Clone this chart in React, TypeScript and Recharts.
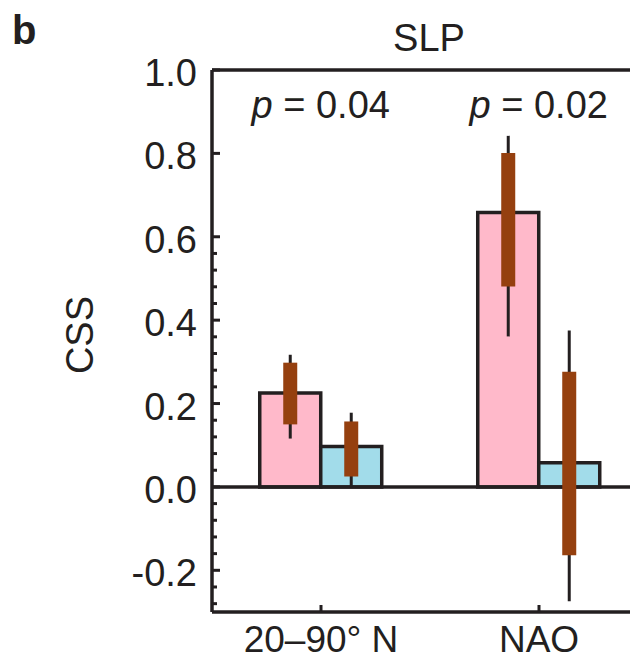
import { BarChart, Bar, XAxis, YAxis, ReferenceLine, ErrorBar, LabelList } from 'recharts'

const categories = ['20–90° N', 'NAO']
const pLabels = ['0.04', '0.02']

// bar heights
const pinkValues = [0.225, 0.658]
const blueValues = [0.097, 0.058]

// brown boxes (inner range) and thin whiskers (outer range)
const pinkBoxLow = [0.15, 0.481]
const pinkBoxHigh = [0.298, 0.801]
const pinkWhiskLow = [0.116, 0.361]
const pinkWhiskHigh = [0.317, 0.842]
const blueBoxLow = [0.025, -0.164]
const blueBoxHigh = [0.157, 0.276]
const blueWhiskLow = [0.0, -0.274]
const blueWhiskHigh = [0.178, 0.375]

const majorTicks = [-0.2, 0, 0.2, 0.4, 0.6, 0.8, 1.0]
const minorTicks = [
  -0.28, -0.24, -0.16, -0.12, -0.08, -0.04, 0.04, 0.08, 0.12, 0.16, 0.24, 0.28, 0.32, 0.36, 0.44,
  0.48, 0.52, 0.56,
]

const INK = '#231f20'
const FONT = '"Liberation Sans", Arial, sans-serif'
const PLOT_TOP = 62
const FRAME_W = 3.5

const data = categories.map((name, i) => ({
  name,
  p: pLabels[i],
  pink: pinkValues[i],
  blue: blueValues[i],
  pinkBox: [pinkValues[i] - pinkBoxLow[i], pinkBoxHigh[i] - pinkValues[i]],
  pinkWhisk: [pinkValues[i] - pinkWhiskLow[i], pinkWhiskHigh[i] - pinkValues[i]],
  blueBox: [blueValues[i] - blueBoxLow[i], blueBoxHigh[i] - blueValues[i]],
  blueWhisk: [blueValues[i] - blueWhiskLow[i], blueWhiskHigh[i] - blueValues[i]],
}))

function YTick({ x, y, payload }: any) {
  const v = payload.value as number
  const major = majorTicks.some((m) => Math.abs(m - v) < 1e-6)
  return (
    <g>
      <line x1={x} x2={x + (major ? 8 : 5)} y1={y} y2={y} stroke={INK} strokeWidth={3} />
      {major && (
        <text x={x - 15} y={y + 16} textAnchor="end" fontSize={38} fill={INK} fontFamily={FONT}>
          {v.toFixed(1)}
        </text>
      )}
    </g>
  )
}

function XTick({ x, y, payload }: any) {
  return (
    <g>
      <line x1={x} x2={x} y1={y} y2={y - 7} stroke={INK} strokeWidth={3} />
      <text x={x} y={y + 40} textAnchor="middle" fontSize={37} fill={INK} fontFamily={FONT}>
        {payload.value}
      </text>
    </g>
  )
}

// p-value sits above the middle of each group, i.e. at the right edge of the pink bar
function PLabel({ x, width, index }: any) {
  return (
    <text
      x={x + width}
      y={PLOT_TOP + 48}
      textAnchor="middle"
      fontSize={38}
      fill={INK}
      fontFamily={FONT}
    >
      <tspan fontStyle="italic">p</tspan> = {pLabels[index]}
    </text>
  )
}

export default function App() {
  return (
    <div style={{ width: 630, height: 651, overflow: 'hidden' }}>
      <BarChart
        width={660}
        height={651}
        data={data}
        margin={{ top: PLOT_TOP, right: 20, bottom: 7, left: 0 }}
        barCategoryGap="21.9%"
        barGap={0}
      >
        <XAxis
          dataKey="name"
          height={40}
          tickSize={0}
          tickMargin={0}
          tickLine={false}
          axisLine={{ stroke: INK, strokeWidth: FRAME_W }}
          tick={<XTick />}
        />
        <YAxis
          width={204}
          domain={[-0.3, 1.0]}
          allowDataOverflow
          ticks={[...majorTicks, ...minorTicks].sort((a, b) => a - b)}
          interval={0}
          tickSize={0}
          tickMargin={0}
          tickLine={false}
          axisLine={{ stroke: INK, strokeWidth: FRAME_W }}
          tick={<YTick />}
        />
        <ReferenceLine y={1} stroke={INK} strokeWidth={FRAME_W} />
        <ReferenceLine y={0} stroke={INK} strokeWidth={FRAME_W} />
        <Bar dataKey="pink" fill="#ffb9ca" stroke={INK} strokeWidth={FRAME_W} isAnimationActive={false}>
          <ErrorBar dataKey="pinkWhisk" width={0} stroke={INK} strokeWidth={3} isAnimationActive={false} />
          <ErrorBar dataKey="pinkBox" width={0} stroke="#95400f" strokeWidth={14} isAnimationActive={false} />
          <LabelList dataKey="p" content={<PLabel />} />
        </Bar>
        <Bar dataKey="blue" fill="#a2dcea" stroke={INK} strokeWidth={FRAME_W} isAnimationActive={false}>
          <ErrorBar dataKey="blueWhisk" width={0} stroke={INK} strokeWidth={3} isAnimationActive={false} />
          <ErrorBar dataKey="blueBox" width={0} stroke="#95400f" strokeWidth={14} isAnimationActive={false} />
        </Bar>
        <text x={4} y={36} fontSize={40} fontWeight="bold" fill={INK} fontFamily={FONT}>
          b
        </text>
        <text x={421} y={43} textAnchor="middle" fontSize={38} fill={INK} fontFamily={FONT}>
          SLP
        </text>
        <text
          x={85}
          y={327}
          textAnchor="middle"
          fontSize={38}
          fill={INK}
          fontFamily={FONT}
          transform="rotate(-90, 85, 327)"
        >
          CSS
        </text>
      </BarChart>
    </div>
  )
}
